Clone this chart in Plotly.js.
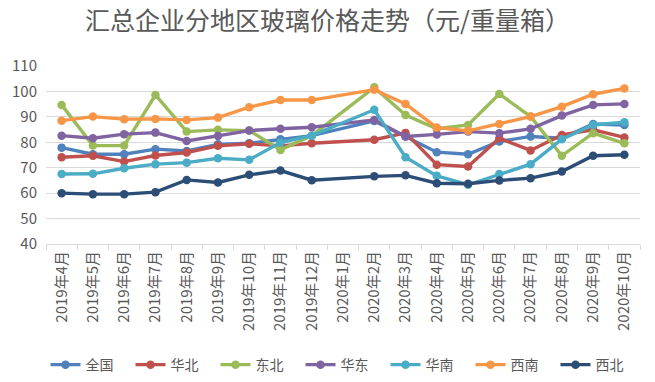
<!DOCTYPE html>
<html>
<head>
<meta charset="utf-8">
<script src="https://cdn.plot.ly/plotly-3.0.1.min.js"></script>
<style>html,body{margin:0;padding:0;background:#fff;}#chart{width:655px;height:382px;}</style>
</head>
<body>
<div id="chart"></div>
<script>
const months = ["2019年4月","2019年5月","2019年6月","2019年7月","2019年8月","2019年9月","2019年10月","2019年11月","2019年12月","2020年1月","2020年2月","2020年3月","2020年4月","2020年5月","2020年6月","2020年7月","2020年8月","2020年9月","2020年10月"];
const seriesNames = ["全国","华北","东北","华东","华南","西南","西北"];
const quanguo = [77.9,75.3,75.3,77.3,76.6,79.2,79.6,81.2,82.6,null,88.4,82.3,76.1,75.3,80.3,82.3,81.6,87.2,86.8];
const huabei  = [74.1,74.7,72.4,74.8,76.0,78.6,79.4,78.6,79.6,null,81.0,83.7,71.2,70.5,81.6,76.8,82.9,84.9,81.9];
const dongbei = [94.7,78.7,78.7,98.6,84.2,84.9,84.6,77.0,82.6,null,101.6,90.7,85.3,86.8,99.0,90.1,74.7,83.6,79.6];
const huadong = [82.6,81.6,83.2,83.8,80.5,82.5,84.6,85.3,85.9,null,88.8,82.3,83.1,84.2,83.6,85.3,90.5,94.7,95.1];
const huanan  = [67.5,67.6,69.8,71.4,72.0,73.7,73.1,79.9,82.6,null,92.8,74.1,66.8,63.3,67.5,71.4,81.2,86.8,87.9];
const xinan   = [88.5,90.1,89.1,89.2,88.8,89.7,93.8,96.6,96.6,null,100.7,95.1,85.8,84.5,87.2,90.1,94.0,98.9,101.2];
const xibei   = [60.0,59.6,59.6,60.4,65.2,64.2,67.2,68.9,65.1,null,66.6,67.0,63.9,63.7,65.0,65.9,68.5,74.7,75.1];
const yTicks = [40,50,60,70,80,90,100,110];
const titleText = "汇总企业分地区玻璃价格走势（元/重量箱）";

const allValues = [quanguo, huabei, dongbei, huadong, huanan, xinan, xibei];
const colors = ["#4f81bd","#c0504d","#9bbb59","#8064a2","#4bacc6","#f79646","#2c4d75"];

const traces = seriesNames.map((n, k) => ({
  type: "scatter",
  mode: "lines+markers",
  name: n,
  x: months,
  y: allValues[k],
  connectgaps: true,
  line: {color: colors[k], width: 3.4},
  marker: {color: colors[k], size: 8.5, symbol: "circle"}
}));

const font = "'Noto Sans CJK SC', 'Noto Sans', sans-serif";
const layout = {
  width: 655, height: 382,
  margin: {l: 46, r: 15, t: 66, b: 138, autoexpand: false},
  paper_bgcolor: "#ffffff", plot_bgcolor: "#ffffff",
  font: {family: font, color: "#595959", size: 13},
  title: {text: titleText, x: 0.5, xanchor: "center", y: 0.945, yanchor: "middle",
          font: {family: font, size: 25, color: "#595959"}},
  showlegend: true,
  legend: {orientation: "h", x: 0.5, xanchor: "center", y: -0.68, yanchor: "middle",
           font: {family: font, size: 14, color: "#595959"},
           entrywidth: 40, entrywidthmode: "pixels", itemwidth: 30,
           traceorder: "normal"},
  xaxis: {
    type: "category", categoryorder: "array", categoryarray: months,
    range: [-0.5, months.length - 0.5],
    showgrid: false, zeroline: false,
    showline: true, linecolor: "#d9d9d9", linewidth: 1,
    ticks: "outside", tickson: "boundaries", ticklen: 5, tickcolor: "#d9d9d9",
    tickangle: -90, tickfont: {family: font, size: 15, color: "#595959"},
    automargin: false,
    fixedrange: true
  },
  yaxis: {
    range: [40, 110], tickvals: yTicks, ticktext: yTicks.map(String),
    showgrid: true, gridcolor: "#d9d9d9", gridwidth: 1,
    zeroline: false, showline: false, ticks: "",
    tickfont: {family: font, size: 15, color: "#595959"},
    ticklabelstandoff: 8, automargin: false,
    fixedrange: true
  }
};

Plotly.newPlot("chart", traces, layout, {displayModeBar: false, staticPlot: true});
</script>
</body>
</html>
